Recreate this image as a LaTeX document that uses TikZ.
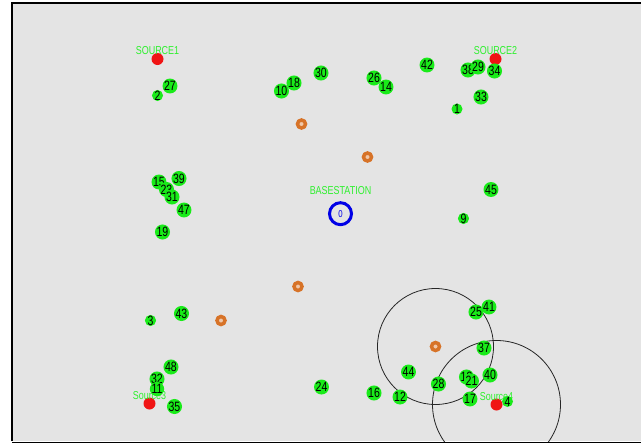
\documentclass[tikz,border=0pt]{standalone}
\usepackage{fontspec}
\setmainfont{Liberation Sans}[FakeStretch=0.78]
\usetikzlibrary{positioning}
\definecolor{bggray}{RGB}{228,228,228}
\definecolor{nodegreen}{RGB}{25,235,25}
\definecolor{taggreen}{RGB}{45,240,45}
\definecolor{srcred}{RGB}{240,20,20}
\definecolor{relayorange}{RGB}{215,115,40}
\definecolor{relaylight}{RGB}{240,200,170}
\definecolor{bsblue}{RGB}{0,0,230}

\begin{document}
\begin{tikzpicture}[x=1pt,y=-1pt,
  sensor/.style={circle,fill=nodegreen,minimum size=11pt,inner sep=0pt,text=black,font=\fontsize{13.5}{14}\selectfont},
  source/.style={circle,fill=srcred,minimum size=12pt,inner sep=0pt},
  relay/.style={circle,draw=relayorange,line width=3.5pt,fill=relaylight,minimum size=8pt,inner sep=0pt},
  sink/.style={circle,draw=bsblue,line width=3pt,minimum size=22pt,inner sep=0pt,text=bsblue,font=\fontsize{10}{11}\selectfont},
  tag/.style={text=taggreen,inner sep=0pt,font=\fontsize{11.5}{12}\selectfont},
  radiorange/.style={draw=black!85,line width=0.8pt}]
\useasboundingbox (0,0) rectangle (641,445);
\fill[white] (0,0) rectangle (641,445);
\fill[bggray] (12,3) rectangle (641,441);
\draw[line width=1.5pt] (12,441) -- (12,3) -- (641,3);
\draw[line width=1pt] (12,442) -- (641,442);

% radio ranges
\coordinate (c4) at (435.5,346.5);
\coordinate (c5) at (496.5,404.5);
\begin{scope}
\clip (12,3) rectangle (641,441);
\draw[radiorange] (c4) circle[radius=58pt];
\draw[radiorange] (c5) circle[radius=64pt];
\end{scope}

% sources and base station
\node[source] (s1) at (157.5,59) {};
\node[source] (s2) at (495.5,59) {};
\node[source] (s3) at (149.5,403.5) {};
\node[source] (s4) at (c5) {};
\node[tag,above=-2.5pt of s1] (t1) {SOURCE1};
\node[tag,above=-2.5pt of s2] (t2) {SOURCE2};
\node[tag,above=-2.5pt of s3] (t3) {Source3};
\node[tag,above=-2.5pt of s4] (t4) {Source4};
\node[sink] (bs) at (340.5,213.7) {0};
\node[tag,above=6pt of bs] (tbs) {BASESTATION};

% cluster heads
\node[relay] (r1) at (301.5,124) {};
\node[relay] (r2) at (367.5,157) {};
\node[relay] (r3) at (298,286.5) {};
\node[relay] (r4) at (c4) {};
\node[relay] (r5) at (221,320.5) {};

% sensors
\node[sensor] (n27) at (170,86) {27};
\node[sensor] (n2) at (157.5,95.5) {2};
\node[sensor] (n10) at (281.5,91) {10};
\node[sensor] (n18) at (294,83) {18};
\node[sensor] (n30) at (321,73) {30};
\node[sensor] (n26) at (374,78) {26};
\node[sensor] (n14) at (386,87) {14};
\node[sensor] (n42) at (427,65) {42};
\node[sensor] (n38) at (468,70) {38};
\node[sensor] (n29) at (478,67) {29};
\node[sensor] (n34) at (494.5,71) {34};
\node[sensor] (n33) at (481,97) {33};
\node[sensor] (n1) at (457,109) {1};
\node[sensor] (n39) at (179,178.5) {39};
\node[sensor] (n15) at (159,182) {15};
\node[sensor] (n23) at (166.5,189.5) {23};
\node[sensor] (n31) at (172,197) {31};
\node[sensor] (n47) at (184,210) {47};
\node[sensor] (n19) at (162.5,232) {19};
\node[sensor] (n45) at (491,189.5) {45};
\node[sensor] (n9) at (463.5,218.5) {9};
\node[sensor] (n3) at (150.5,320.5) {3};
\node[sensor] (n43) at (181.5,313.5) {43};
\node[sensor] (n48) at (171,367) {48};
\node[sensor] (n32) at (157,379) {32};
\node[sensor] (n11) at (157,389) {11};
\node[sensor] (n35) at (174.5,406.5) {35};
\node[sensor] (n24) at (321.5,387) {24};
\node[sensor] (n16) at (374,393) {16};
\node[sensor] (n12) at (400,397) {12};
\node[sensor] (n44) at (408.5,372) {44};
\node[sensor] (n28) at (438.5,384) {28};
\node[sensor] (n41) at (489,307) {41};
\node[sensor] (n25) at (476,312) {25};
\node[sensor] (n37) at (484,348) {37};
\node[sensor] (n13) at (466.5,377) {13};
\node[sensor] (n21) at (471.5,381) {21};
\node[sensor] (n40) at (490,375) {40};
\node[sensor] (n17) at (470,399) {17};
\node[sensor] (n4) at (507.5,401.5) {4};
\end{tikzpicture}
\end{document}
